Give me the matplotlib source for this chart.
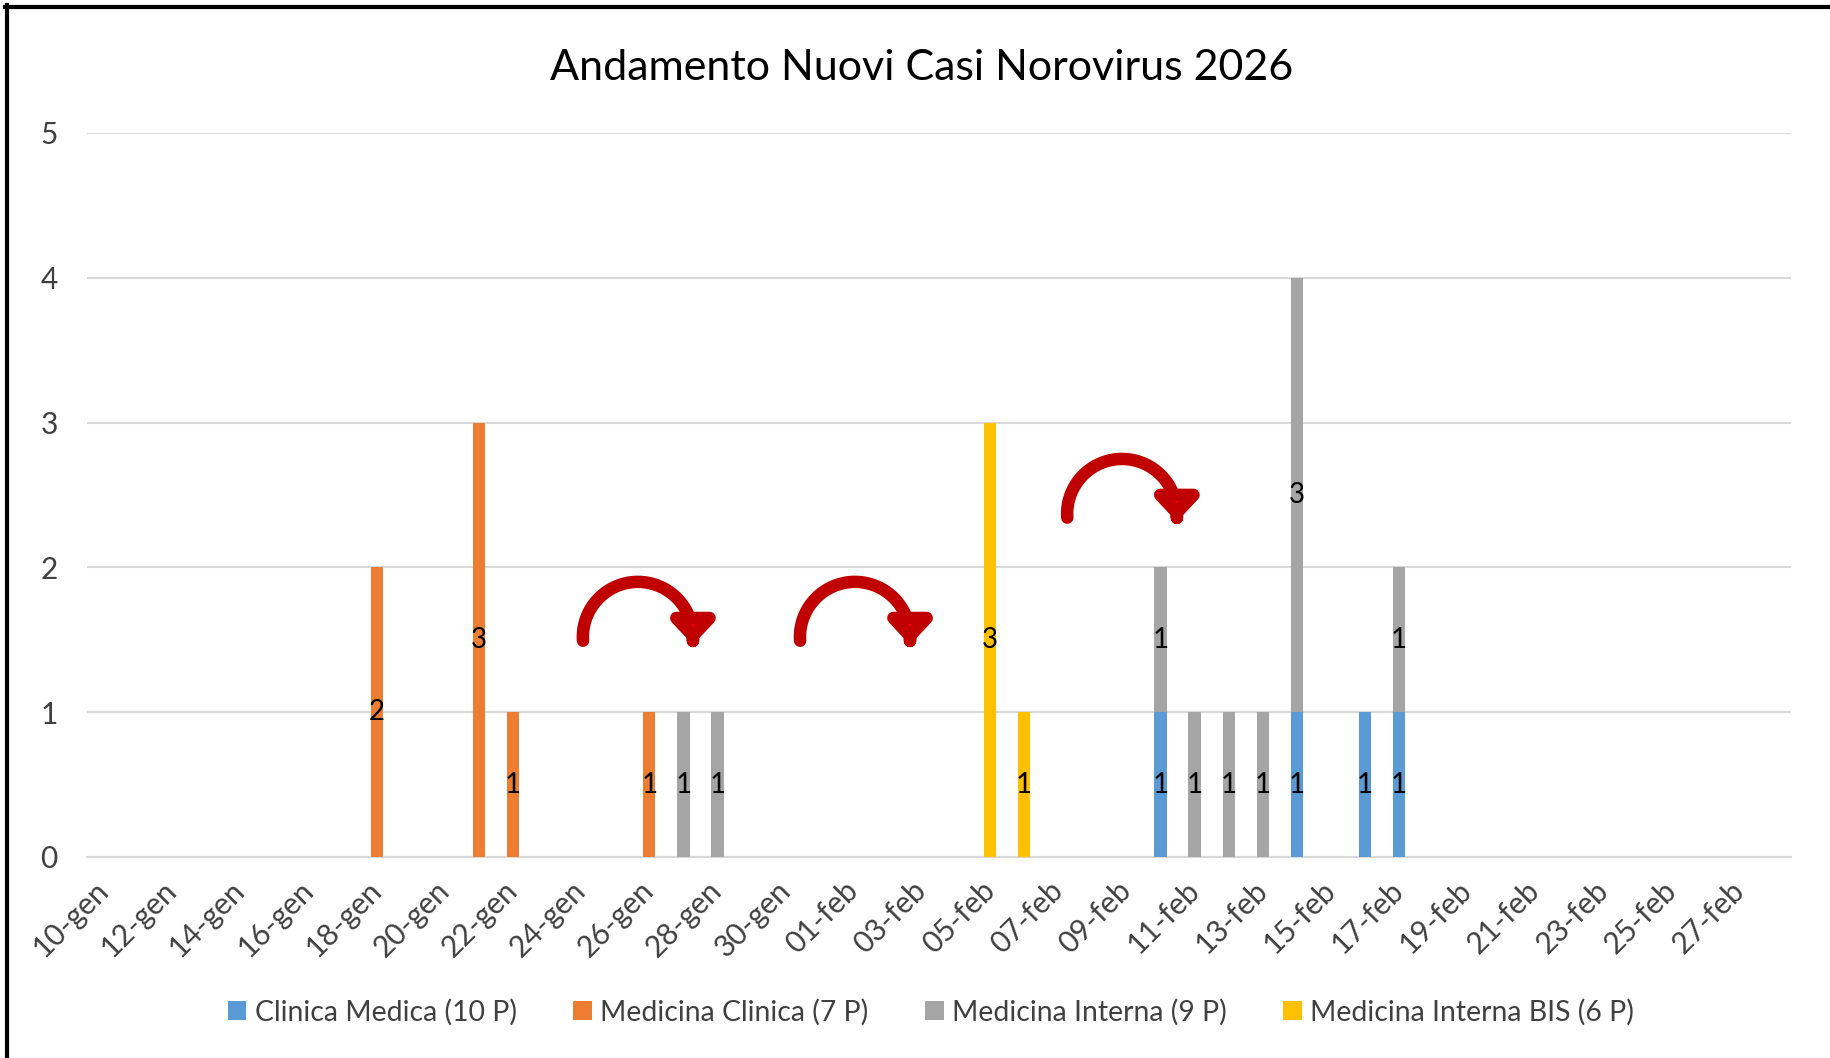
import matplotlib
matplotlib.use('Agg')
import matplotlib.pyplot as plt
import numpy as np
from matplotlib.patches import FancyArrowPatch
from matplotlib.path import Path
from matplotlib.lines import Line2D

plt.rcParams['font.family'] = ['Lato', 'DejaVu Sans']

# giorni dal 10 gennaio al 28 febbraio
days = [f"{d:02d}-gen" for d in range(10, 32)] + [f"{d:02d}-feb" for d in range(1, 29)]

series_names = ['Clinica Medica (10 P)', 'Medicina Clinica (7 P)',
                'Medicina Interna (9 P)', 'Medicina Interna BIS (6 P)']
series_colors = ['#5B9BD5', '#ED7D31', '#A5A5A5', '#FFC000']

clinica_medica = {'10-feb': 1, '14-feb': 1, '16-feb': 1, '17-feb': 1}
medicina_clinica = {'18-gen': 2, '21-gen': 3, '22-gen': 1, '26-gen': 1}
medicina_interna = {'27-gen': 1, '28-gen': 1, '10-feb': 1, '11-feb': 1,
                    '12-feb': 1, '13-feb': 1, '14-feb': 3, '17-feb': 1}
medicina_interna_bis = {'05-feb': 3, '06-feb': 1}

# frecce: (giorno partenza, giorno arrivo, altezza)
arrows = [(14.05, 17.28, 1.52), (20.42, 23.65, 1.52), (28.26, 31.48, 2.37)]

W, H = 1831, 1058
fig = plt.figure(figsize=(W / 100, H / 100), dpi=100)
ax = fig.add_axes([87 / W, 1 - 857 / H, (1791 - 87) / W, (857 - 133) / H])

x = np.arange(len(days))
bottom = np.zeros(len(days))
all_series = [clinica_medica, medicina_clinica, medicina_interna, medicina_interna_bis]
for name, col, ser in zip(series_names, series_colors, all_series):
    vals = np.array([ser.get(d, 0) for d in days], dtype=float)
    ax.bar(x, vals, width=0.36, bottom=bottom, color=col, label=name, zorder=3)
    for i, v in enumerate(vals):
        if v > 0:
            ax.text(x[i], bottom[i] + v / 2, f"{int(v)}", ha='center', va='center',
                    fontsize=20, color='#000000', zorder=4)
    bottom += vals

ax.set_xlim(-0.5, len(days) - 0.5)
ax.set_ylim(0, 5)
ax.set_yticks(range(6))
ax.set_xticks(x[::2])
ax.set_xticklabels(days[::2], rotation=45, ha='right', va='center', rotation_mode='anchor')
ax.tick_params(axis='both', length=0, labelsize=21.5, colors='#404040')
ax.tick_params(axis='x', pad=21)
ax.tick_params(axis='y', pad=21)
ax.grid(axis='y', color='#D9D9D9', linewidth=1.5, zorder=0)
for s in ['top', 'right', 'left']:
    ax.spines[s].set_visible(False)
ax.spines['bottom'].set_color('#D9D9D9')
ax.spines['bottom'].set_linewidth(1.5)

fig.text(0.5 * (551 + 1293) / W, 1 - 68 / H, 'Andamento Nuovi Casi Norovirus 2026',
         ha='center', va='center', fontsize=31, color='#000000')

ax.legend(loc='center', bbox_to_anchor=(931 / W, 1 - 1012 / H),
          bbox_transform=fig.transFigure, ncol=4, frameon=False, fontsize=20.4,
          handlelength=0.65, handleheight=0.65, handletextpad=0.3, columnspacing=2.0,
          labelcolor='#404040')

# frecce curve rosse
to_data = ax.transData.inverted()
for x0, x1, yb in arrows:
    p0 = ax.transData.transform((x0, yb))
    p1 = ax.transData.transform((x1, yb))
    cx, cy = (p0 + p1) / 2
    r = (p1[0] - p0[0]) / 2
    th = np.radians(np.linspace(184, 0, 60))
    pts = np.column_stack([cx + r * np.cos(th), cy + r * np.sin(th)])
    pts = np.vstack([pts, [cx + r, cy - 4], [cx + r, cy - 8]])
    verts = to_data.transform(pts)
    arr = FancyArrowPatch(path=Path(verts), arrowstyle='-|>,head_length=0.32,head_width=0.3',
                          mutation_scale=40, linewidth=9, edgecolor='#C00000',
                          facecolor='#FF0000', joinstyle='round', capstyle='round', zorder=5)
    ax.add_patch(arr)

# cornice
fig.add_artist(Line2D([5 / W, 1], [1 - 7 / H, 1 - 7 / H], color='black', linewidth=3,
                      transform=fig.transFigure))
fig.add_artist(Line2D([7 / W, 7 / W], [0, 1 - 5 / H], color='black', linewidth=3,
                      transform=fig.transFigure))

fig.savefig('out.png', dpi=100)
